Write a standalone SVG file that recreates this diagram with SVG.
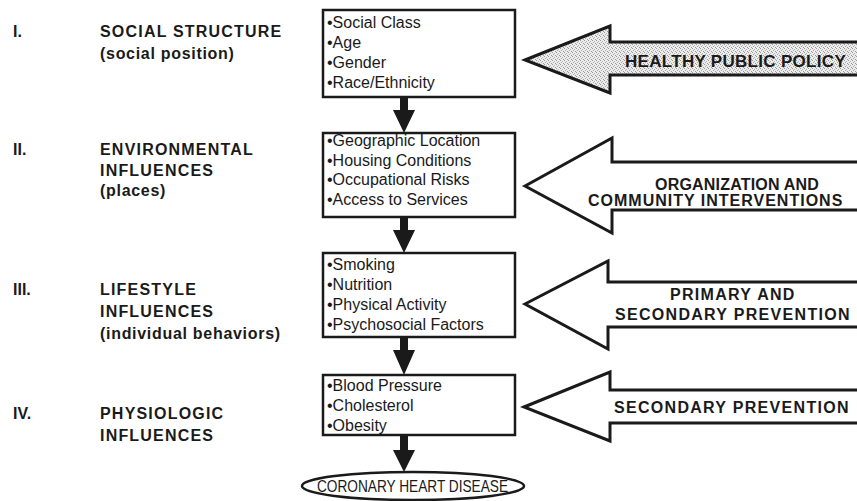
<svg xmlns="http://www.w3.org/2000/svg" width="857" height="501" viewBox="0 0 857 501">
  <style>
    .num { font-family: "Liberation Sans", Arial, sans-serif; font-weight: bold; font-size: 16px; fill: #1a1a1a; }
    .lvl { font-family: "Liberation Sans", Arial, sans-serif; font-weight: bold; font-size: 16px; letter-spacing: 1.2px; fill: #1a1a1a; }
    .item { font-family: "Liberation Sans", Arial, sans-serif; font-size: 16px; fill: #1a1a1a; }
    .box { fill: #fff; stroke: #1a1a1a; stroke-width: 2.5; }
    .big { fill: #fff; stroke: #1a1a1a; stroke-width: 3; stroke-linejoin: miter; }
    .big-text { font-family: "Liberation Sans", Arial, sans-serif; font-weight: bold; font-size: 16px; letter-spacing: 1.3px; fill: #1a1a1a; }
    .down { fill: #1a1a1a; }
    .outcome { fill: #fff; stroke: #1a1a1a; stroke-width: 2.5; }
    .outcome-text { font-family: "Liberation Sans", Arial, sans-serif; font-size: 17px; fill: #1a1a1a; }
  </style>
  <defs>
    <!-- fine grey screen for the policy arrow -->
    <pattern id="stipple" width="4" height="4" patternUnits="userSpaceOnUse">
      <rect width="4" height="4" fill="#ececec"/>
      <rect x="0" y="0" width="1" height="1" fill="#9a9a9a"/>
      <rect x="2" y="1" width="1" height="1" fill="#b4b4b4"/>
      <rect x="1" y="2" width="1" height="1" fill="#aaaaaa"/>
      <rect x="3" y="3" width="1" height="1" fill="#9a9a9a"/>
    </pattern>
  </defs>
  <rect width="857" height="501" fill="#fff"/>

  <!-- Level labels -->
  <g id="level-1">
    <text class="num" x="13" y="37">I.</text>
    <text class="lvl" x="100" y="37">SOCIAL STRUCTURE</text>
    <text class="lvl" x="100" y="59" style="letter-spacing:0.7px">(social position)</text>
  </g>
  <g id="level-2">
    <text class="num" x="13" y="155">II.</text>
    <text class="lvl" x="100" y="155">ENVIRONMENTAL</text>
    <text class="lvl" x="100" y="176">INFLUENCES</text>
    <text class="lvl" x="100" y="196" style="letter-spacing:0.7px">(places)</text>
  </g>
  <g id="level-3">
    <text class="num" x="13" y="295">III.</text>
    <text class="lvl" x="100" y="295">LIFESTYLE</text>
    <text class="lvl" x="100" y="317">INFLUENCES</text>
    <text class="lvl" x="100" y="339" style="letter-spacing:0.7px">(individual behaviors)</text>
  </g>
  <g id="level-4">
    <text class="num" x="13" y="419">IV.</text>
    <text class="lvl" x="100" y="419">PHYSIOLOGIC</text>
    <text class="lvl" x="100" y="441">INFLUENCES</text>
  </g>

  <!-- Determinant boxes -->
  <g id="box-social">
    <rect class="box" x="323" y="10" width="192" height="87"/>
    <text class="item" x="327" y="28">•Social Class</text>
    <text class="item" x="327" y="48">•Age</text>
    <text class="item" x="327" y="68">•Gender</text>
    <text class="item" x="327" y="88">•Race/Ethnicity</text>
  </g>
  <g id="box-environment">
    <rect class="box" x="323" y="133" width="192" height="84"/>
    <text class="item" x="327" y="146">•Geographic Location</text>
    <text class="item" x="327" y="166">•Housing Conditions</text>
    <text class="item" x="327" y="185">•Occupational Risks</text>
    <text class="item" x="327" y="205">•Access to Services</text>
  </g>
  <g id="box-lifestyle">
    <rect class="box" x="323" y="253" width="192" height="84"/>
    <text class="item" x="327" y="270">•Smoking</text>
    <text class="item" x="327" y="290">•Nutrition</text>
    <text class="item" x="327" y="310">•Physical Activity</text>
    <text class="item" x="327" y="330">•Psychosocial Factors</text>
  </g>
  <g id="box-physiologic">
    <rect class="box" x="323" y="375" width="192" height="60"/>
    <text class="item" x="327" y="391">•Blood Pressure</text>
    <text class="item" x="327" y="411">•Cholesterol</text>
    <text class="item" x="327" y="431">•Obesity</text>
  </g>

  <!-- Outcome -->
  <g id="outcome-chd">
    <ellipse class="outcome" cx="413" cy="486" rx="111" ry="14"/>
    <text class="outcome-text" x="317" y="492" textLength="191" lengthAdjust="spacingAndGlyphs">CORONARY HEART DISEASE</text>
  </g>

  <!-- Intervention arrows -->
  <g id="policy">
    <path class="big" d="M525,60 L610,26 L610,42 L860,42 L860,75 L610,75 L610,93 Z" style="fill:url(#stipple)"/>
    <text class="big-text" x="625" y="67" style="letter-spacing:0.3px;font-size:17px">HEALTHY PUBLIC POLICY</text>
  </g>
  <g id="community">
    <path class="big" d="M525,186 L612,138 L612,162 L860,162 L860,210 L612,210 L612,233 Z"/>
    <text class="big-text" x="655" y="190" style="letter-spacing:0.2px">ORGANIZATION AND</text>
    <text class="big-text" x="588" y="206" style="letter-spacing:1px">COMMUNITY INTERVENTIONS</text>
  </g>
  <g id="prevention">
    <path class="big" d="M525,304 L608,261 L608,282 L860,282 L860,327 L608,327 L608,349 Z"/>
    <text class="big-text" x="670" y="300">PRIMARY AND</text>
    <text class="big-text" x="615" y="320">SECONDARY PREVENTION</text>
  </g>
  <g id="secondary">
    <path class="big" d="M524,407 L610,372 L610,390 L860,390 L860,423 L610,423 L610,441 Z"/>
    <text class="big-text" x="614" y="413">SECONDARY PREVENTION</text>
  </g>

  <!-- Connectors between levels -->
  <g id="connectors">
    <path class="down" d="M400,97 L408,97 L408,110 L415,110 L404,133 L393,110 L400,110 Z"/>
    <path class="down" d="M400,217 L408,217 L408,230 L415,230 L404,253 L393,230 L400,230 Z"/>
    <path class="down" d="M400,337 L408,337 L408,350 L415,350 L404,375 L393,350 L400,350 Z"/>
    <path class="down" d="M400,435 L408,435 L408,450 L415,450 L404,472 L393,450 L400,450 Z"/>
  </g>
</svg>
